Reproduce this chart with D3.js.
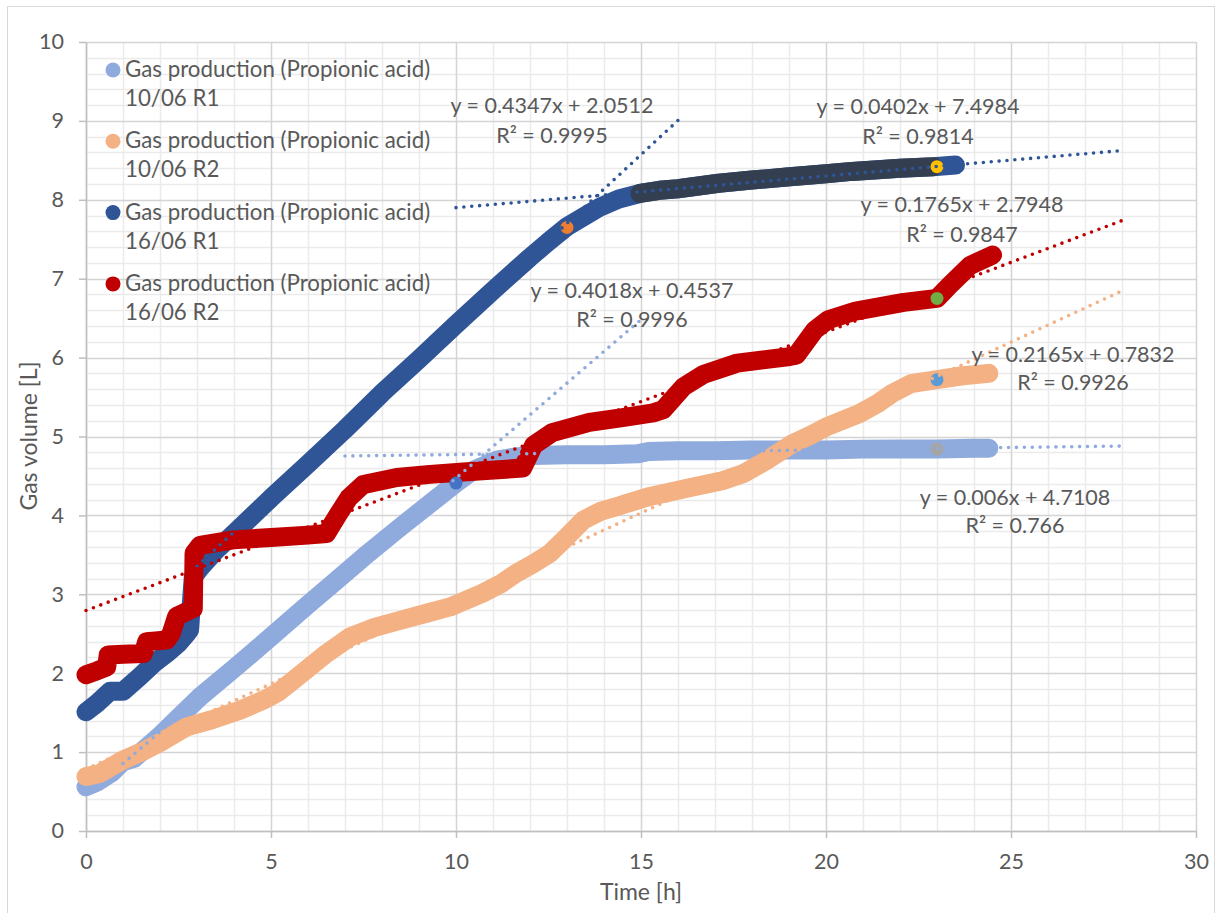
<!DOCTYPE html>
<html><head><meta charset="utf-8">
<script src="https://cdn.jsdelivr.net/npm/d3@7"></script>
<style>
html,body{margin:0;padding:0;background:#fff;}
svg{display:block;font-family:Lato,"Noto Sans",sans-serif;}
</style></head>
<body>
<svg id="chart" width="1221" height="913"></svg>
<script>
// ---------------- DATA ----------------
const seriesNames = [
  ["Gas production (Propionic acid)", "10/06 R1"],
  ["Gas production (Propionic acid)", "10/06 R2"],
  ["Gas production (Propionic acid)", "16/06 R1"],
  ["Gas production (Propionic acid)", "16/06 R2"]
];
// 10/06 R1
const timeR1a = [0, 0.3, 0.7, 1.0, 1.3, 2, 3.08, 4, 4.9, 6, 6.68, 7.5, 8.49, 9.3, 10, 10.5, 11.1, 11.6, 12.1, 13, 14, 14.9, 15.2, 16, 17, 18, 19, 20, 21, 22, 23, 24, 24.4];
const gasR1a  = [0.56, 0.62, 0.74, 0.88, 0.92, 1.21, 1.70, 2.06, 2.42, 2.87, 3.14, 3.47, 3.85, 4.15, 4.41, 4.58, 4.70, 4.74, 4.76, 4.77, 4.77, 4.78, 4.81, 4.82, 4.82, 4.83, 4.83, 4.83, 4.84, 4.84, 4.84, 4.85, 4.85];
// 10/06 R2
const timeR2a = [0, 0.38, 1.0, 1.5, 2.0, 2.72, 3.4, 4.16, 4.8, 5.2, 5.6, 6.05, 6.5, 7.14, 7.8, 8.49, 9.2, 9.84, 10.7, 11.2, 11.64, 12.1, 12.54, 13.0, 13.44, 13.9, 14.34, 14.6, 15.24, 16.4, 17.2, 17.77, 18.4, 19.1, 19.6, 20.0, 20.9, 21.4, 21.8, 22.3, 23.0, 23.7, 24.4];
const gasR2a  = [0.69, 0.73, 0.90, 1.00, 1.12, 1.32, 1.41, 1.53, 1.66, 1.76, 1.91, 2.08, 2.25, 2.46, 2.58, 2.67, 2.76, 2.84, 3.01, 3.13, 3.27, 3.39, 3.52, 3.73, 3.94, 4.05, 4.11, 4.15, 4.24, 4.36, 4.44, 4.53, 4.70, 4.91, 5.02, 5.12, 5.29, 5.42, 5.55, 5.67, 5.72, 5.77, 5.80];
// 16/06 R1
const timeR1b = [0, 0.3, 0.65, 1.0, 1.46, 1.82, 2.18, 2.5, 2.72, 2.8, 2.85, 2.9, 3.08, 3.5, 4, 5, 6, 7, 8, 9, 10, 11, 12, 12.5, 13, 13.5, 13.9, 14.4, 14.97, 15.5, 16, 17.1, 18, 18.94, 20, 20.7, 22, 22.9, 23.5];
const gasR1b  = [1.51, 1.62, 1.77, 1.77, 1.96, 2.12, 2.25, 2.38, 2.50, 2.55, 2.90, 3.22, 3.33, 3.55, 3.77, 4.22, 4.65, 5.09, 5.55, 5.98, 6.42, 6.85, 7.27, 7.47, 7.66, 7.80, 7.91, 8.01, 8.08, 8.12, 8.14, 8.21, 8.25, 8.29, 8.33, 8.36, 8.40, 8.42, 8.44];
// 16/06 R1 – points used for the second fit (15 h – 23 h)
const timeR1bFit = [14.97, 15.5, 16, 17.1, 18, 18.94, 20, 20.7, 22, 22.9];
const gasR1bFit  = [8.08, 8.12, 8.14, 8.21, 8.25, 8.29, 8.33, 8.36, 8.40, 8.42];
// 16/06 R2
const timeR2b = [0, 0.3, 0.56, 0.6, 1.0, 1.55, 1.64, 2.18, 2.3, 2.45, 2.9, 2.92, 3.08, 3.98, 5, 6, 6.5, 6.8, 7.1, 7.49, 8.4, 9.3, 10.2, 11.5, 11.8, 12.1, 12.6, 13.6, 14.5, 15.33, 15.6, 16.15, 16.7, 17.6, 18.96, 19.2, 19.7, 20.06, 20.8, 22.1, 23.0, 23.35, 23.9, 24.5];
const gasR2b  = [1.98, 2.03, 2.08, 2.23, 2.24, 2.25, 2.40, 2.42, 2.50, 2.72, 2.82, 3.52, 3.62, 3.69, 3.72, 3.75, 3.77, 4.00, 4.22, 4.39, 4.48, 4.52, 4.55, 4.59, 4.60, 4.89, 5.05, 5.18, 5.24, 5.30, 5.34, 5.63, 5.79, 5.93, 6.01, 6.03, 6.35, 6.48, 6.59, 6.70, 6.75, 6.92, 7.17, 7.30];
// single marked points (fit boundaries)
const markTime = [10, 13, 23, 23, 23, 23];
const markGas  = [4.41, 7.65, 4.84, 8.42, 5.72, 6.75];
// linear trendlines
const trendSlope     = [0.4347, 0.0402, 0.1765, 0.4018, 0.006, 0.2165];
const trendIntercept = [2.0512, 7.4984, 2.7948, 0.4537, 4.7108, 0.7832];
const trendFrom      = [3, 10, 0, 1, 7, 0];
const trendTo        = [16, 28, 28, 15, 28, 28];
const trendEq  = ["y = 0.4347x + 2.0512", "y = 0.0402x + 7.4984", "y = 0.1765x + 2.7948", "y = 0.4018x + 0.4537", "y = 0.006x + 4.7108", "y = 0.2165x + 0.7832"];
const trendR2  = ["R² = 0.9995", "R² = 0.9814", "R² = 0.9847", "R² = 0.9996", "R² = 0.766", "R² = 0.9926"];
const xTicks = [0, 5, 10, 15, 20, 25, 30];
const yTicks = [0, 1, 2, 3, 4, 5, 6, 7, 8, 9, 10];
const xTitle = "Time [h]";
const yTitle = "Gas volume [L]";

// ---------------- STYLE / LAYOUT ----------------
const seriesColor = ["#8FAADC", "#F4B183", "#2F5597", "#C00000"];
const fitColor = "#333F50";
const markColor = ["#4472C4", "#ED7D31", "#A5A5A5", "#FFC000", "#5B9BD5", "#70AD47"];
const trendColor = ["#2F5597", "#2F5597", "#C00000", "#8FAADC", "#8FAADC", "#F4B183"];
const labelPos = [[552,113,143],[918,114,144],[962,212,242],[632,298,327],[1015,505,533],[1073,362,390]];
const textColor = "#595959";
const FS = 21.5;
const LFS = 22.3;
const BAND = 19;

const svg = d3.select("#chart");
const x = d3.scaleLinear().domain([0, 30]).range([86, 1196]);
const y = d3.scaleLinear().domain([0, 10]).range([831, 42]);

// outer chart border
svg.append("rect").attr("x", 7.5).attr("y", 6.5).attr("width", 1207).attr("height", 915)
  .attr("fill", "#fff").attr("stroke", "#D9D9D9").attr("stroke-width", 1);

// grid
const g = svg.append("g");
const minorX = d3.range(0, 31, 1).filter(v => v % 5 !== 0);
const minorY = d3.range(0, 50).map(i => +(i * 0.2).toFixed(1)).filter(v => Math.abs(v - Math.round(v)) > 1e-6);
g.selectAll(".mx").data(minorX).join("line")
  .attr("x1", d => Math.round(x(d)) + 0.5).attr("x2", d => Math.round(x(d)) + 0.5)
  .attr("y1", y(0)).attr("y2", y(10)).attr("stroke", "#EBEBEB").attr("stroke-width", 1.5);
g.selectAll(".my").data(minorY).join("line")
  .attr("y1", d => Math.round(y(d)) + 0.5).attr("y2", d => Math.round(y(d)) + 0.5)
  .attr("x1", x(0)).attr("x2", x(30)).attr("stroke", "#EBEBEB").attr("stroke-width", 1.5);
g.selectAll(".Mx").data(xTicks).join("line")
  .attr("x1", d => Math.round(x(d)) + 0.5).attr("x2", d => Math.round(x(d)) + 0.5)
  .attr("y1", y(0)).attr("y2", y(10)).attr("stroke", "#D4D4D4").attr("stroke-width", 1.5);
g.selectAll(".My").data(yTicks).join("line")
  .attr("y1", d => Math.round(y(d)) + 0.5).attr("y2", d => Math.round(y(d)) + 0.5)
  .attr("x1", x(0)).attr("x2", x(30)).attr("stroke", "#D4D4D4").attr("stroke-width", 1.5);

// axes
const xAxis = svg.append("g").attr("transform", `translate(0,${y(0)})`)
  .call(d3.axisBottom(x).tickValues(xTicks).tickSize(7).tickSizeOuter(0).tickPadding(16).tickFormat(d3.format("d")));
const yAxis = svg.append("g").attr("transform", `translate(${x(0)},0)`)
  .call(d3.axisLeft(y).tickValues(yTicks).tickSize(7).tickSizeOuter(0).tickPadding(15).tickFormat(d3.format("d")));
[xAxis, yAxis].forEach(a => {
  a.select(".domain").attr("stroke", "#BFBFBF").attr("stroke-width", 1.5);
  a.selectAll(".tick line").attr("stroke", "#BFBFBF").attr("stroke-width", 1.5);
  a.selectAll(".tick text").attr("fill", textColor).style("font-size", FS + "px").style("font-family", "Lato");
});

// series
const line = d3.line().x(d => x(d[0])).y(d => y(d[1]));
const allSeries = [[timeR1a, gasR1a], [timeR2a, gasR2a], [timeR1b, gasR1b], [timeR2b, gasR2b]];
const plot = svg.append("g");
allSeries.forEach((s, i) => {
  const pts = s[0].map((t, k) => [t, s[1][k]]);
  plot.append("path").datum(pts).attr("d", line).attr("fill", "none")
    .attr("stroke", seriesColor[i]).attr("stroke-width", BAND)
    .attr("stroke-linecap", "round").attr("stroke-linejoin", "round");
  if (i === 2) {
    const fp = timeR1bFit.map((t, k) => [t, gasR1bFit[k]]);
    plot.append("path").datum(fp).attr("d", line).attr("fill", "none")
      .attr("stroke", fitColor).attr("stroke-width", BAND)
      .attr("stroke-linecap", "round").attr("stroke-linejoin", "round");
  }
});
// marked points
plot.selectAll(".mk").data(markTime.map((t, k) => [t, markGas[k], k])).join("circle")
  .attr("cx", d => x(d[0])).attr("cy", d => y(d[1])).attr("r", 6.5)
  .attr("fill", d => markColor[d[2]]);

// trendlines
trendSlope.forEach((m, i) => {
  const pts = [[trendFrom[i], m * trendFrom[i] + trendIntercept[i]], [trendTo[i], m * trendTo[i] + trendIntercept[i]]];
  plot.append("path").datum(pts).attr("d", line).attr("fill", "none")
    .attr("stroke", trendColor[i]).attr("stroke-width", 3.6)
    .attr("stroke-linecap", "round").attr("stroke-dasharray", "0 7.9");
});

// trend labels
trendEq.forEach((eq, i) => {
  const p = labelPos[i];
  svg.append("text").attr("x", p[0]).attr("y", p[1]).attr("text-anchor", "middle")
    .attr("fill", textColor).style("font-size", FS + "px").text(eq);
  svg.append("text").attr("x", p[0]).attr("y", p[2]).attr("text-anchor", "middle")
    .attr("fill", textColor).style("font-size", FS + "px").text(trendR2[i]);
});

// legend
seriesNames.forEach((nm, i) => {
  const cy = 70 + 71.3 * i;
  svg.append("circle").attr("cx", 113).attr("cy", cy).attr("r", 7.5).attr("fill", seriesColor[i]);
  svg.append("text").attr("x", 125).attr("y", cy + 7).attr("fill", textColor)
    .style("font-size", LFS + "px").text(nm[0]);
  svg.append("text").attr("x", 125).attr("y", cy + 36).attr("fill", textColor)
    .style("font-size", LFS + "px").text(nm[1]);
});

// axis titles
svg.append("text").attr("x", 641).attr("y", 900).attr("text-anchor", "middle")
  .attr("fill", textColor).style("font-size", "23px").text(xTitle);
svg.append("text").attr("transform", "translate(37,436) rotate(-90)").attr("text-anchor", "middle")
  .attr("fill", textColor).style("font-size", "23px").text(yTitle);
</script>
</body></html>
